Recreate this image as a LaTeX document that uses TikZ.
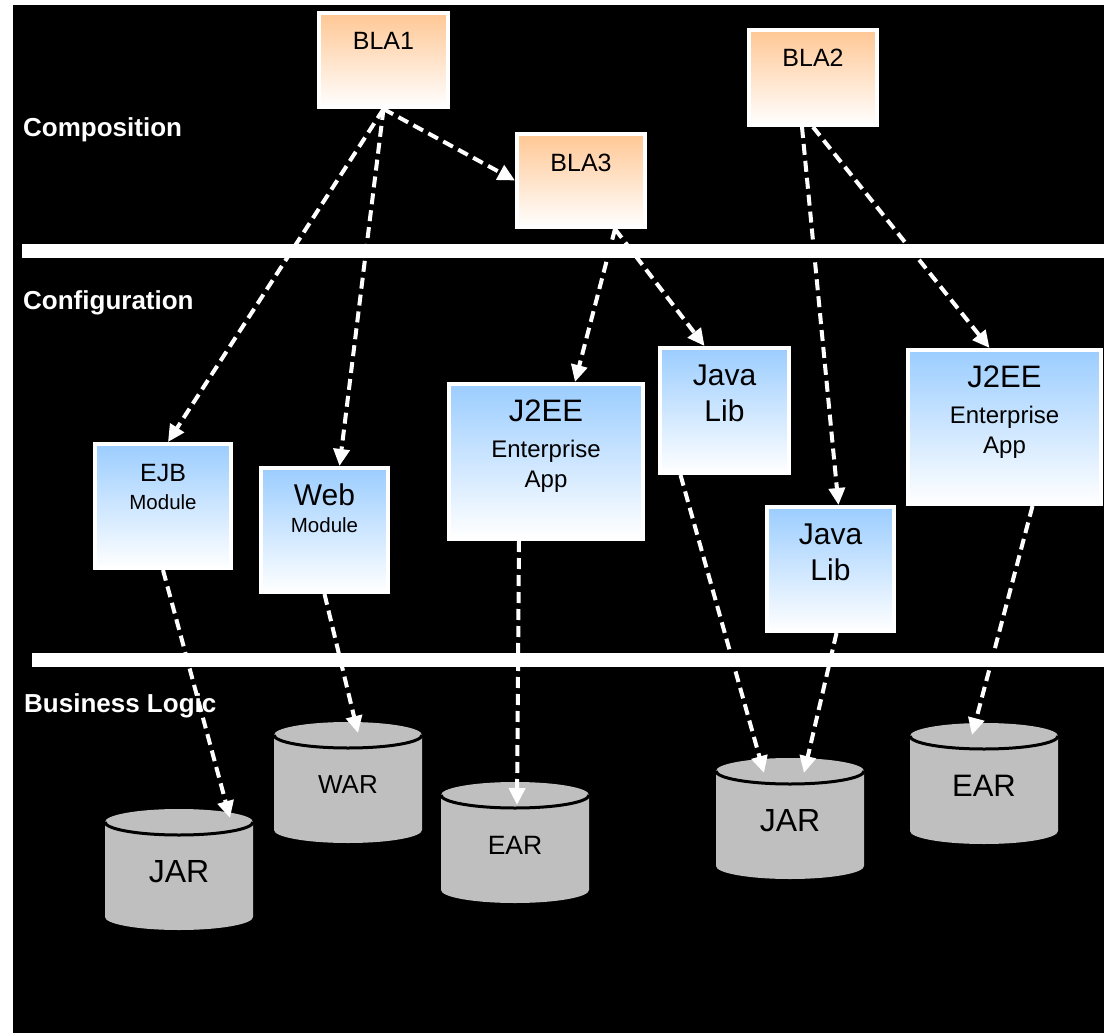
\documentclass[tikz,border=0pt]{standalone}
\usepackage{fontspec}
\setmainfont{Liberation Sans}
\usepackage{tikz}
\usetikzlibrary{arrows.meta,
                calc}

\definecolor{blaorange}{RGB}{255,199,148}
\definecolor{cfgblue}{RGB}{155,205,255}
\definecolor{storegray}{RGB}{191,191,191}

\newcommand{\BoxText}[3]{\parbox[c][#2pt][t]{#1pt}{\centering\rule{0pt}{37pt}#3}}
\newcommand{\Store}[5]{%
  \fill[storegray] (#2-74,#3-50) arc[start angle=180, end angle=0, x radius=74pt, y radius=13pt]
       -- (#2+74,#3+45) arc[start angle=0, end angle=-180, x radius=74pt, y radius=13pt] -- cycle;
  \draw[line width=3pt] (#2-74,#3-50) arc[start angle=180, end angle=360, x radius=74pt, y radius=13pt];
  \node (#1) at (#2,#3) {\fontsize{#4}{#4}\selectfont #5};
}

\begin{document}
\begin{tikzpicture}[x=1pt,y=-1pt]

\tikzstyle{blabox}=[draw=white, line width=4pt, top color=blaorange, bottom color=white, inner sep=0pt, font=\fontsize{25}{30}\selectfont]
\tikzstyle{cfgbox}=[draw=white, line width=4pt, top color=cfgblue, bottom color=white, inner sep=0pt]
\tikzstyle{layer}=[anchor=base west, inner sep=0pt, text=white, font=\fontsize{26}{26}\selectfont\bfseries]
\tikzstyle{arrow}=[draw=white, line width=4pt, dash pattern=on 11pt off 6pt, -{Triangle[length=17pt,width=16pt]}]

\useasboundingbox (0,0) rectangle (1104,1033);
\fill[white] (0,0) rectangle (1104,1033);
\fill[black] (13,5) rectangle (1104,1033);
\fill[white] (22,244) rectangle (1104,258);
\fill[white] (32,653) rectangle (1104,667);

\node (COMP) [layer] at (23,136) {Composition};
\node (CONF) [layer] at (23,309) {Configuration};
\node (BUS)  [layer] at (24,712) {Business Logic};

\node (BLA1) [blabox] at (383.5,60)   {\BoxText{129}{94}{BLA1}};
\node (BLA3) [blabox] at (581,180.5)  {\BoxText{128}{93}{BLA3}};
\node (BLA2) [blabox] at (813,77.5)   {\BoxText{128}{95}{BLA2}};

\node (EJB)  [cfgbox] at (163,506)    {\BoxText{136}{124}{\fontsize{25}{28}\selectfont EJB\\
                                        \fontsize{20.5}{28}\selectfont Module}};
\node (WEB)  [cfgbox] at (324.5,530)  {\BoxText{127}{124}{\fontsize{30}{27}\selectfont Web\\
                                        \fontsize{20.5}{27}\selectfont Module}};
\node (APP1) [cfgbox] at (546,461.5)  {\BoxText{194}{155}{\fontsize{31}{30}\selectfont J2EE\\[6pt]
                                        \fontsize{24}{30}\selectfont Enterprise\\ App}};
\node (LIB1) [cfgbox] at (724.5,410.5) {\BoxText{129}{125}{\fontsize{30}{36}\selectfont Java\\ Lib}};
\node (LIB2) [cfgbox] at (830.5,569)  {\BoxText{127}{124}{\fontsize{30}{36}\selectfont Java\\ Lib}};
\node (APP2) [cfgbox] at (1004.5,427) {\BoxText{193}{154}{\fontsize{31}{30}\selectfont J2EE\\[6pt]
                                        \fontsize{24}{30}\selectfont Enterprise\\ App}};

\Store{JAR1}{179}{872}{32}{JAR}
\Store{WAR}{348}{785}{26}{WAR}
\Store{EAR1}{515}{845}{26.5}{EAR}
\Store{JAR2}{790}{821}{32}{JAR}
\Store{EAR2}{984}{786}{31}{EAR}

\draw [arrow] (BLA1.south) -- (BLA3.west);
\draw [arrow] (BLA1.south) -- ([xshift=5pt]EJB.north);
\draw [arrow] (BLA1.south) -- ([xshift=15pt]WEB.north);
\draw [arrow] ([xshift=34pt]BLA3.south) -- ([xshift=29pt]APP1.north);
\draw [arrow] ([xshift=34pt]BLA3.south) -- ([xshift=-20pt]LIB1.north);
\draw [arrow] ([xshift=-11pt]BLA2.south) -- ([xshift=8pt]LIB2.north);
\draw [arrow] (BLA2.south) -- ([xshift=-15pt]APP2.north);
\draw [arrow] (EJB.south) -- ($(JAR1)+(51,-54)$);
\draw [arrow] (WEB.south) -- ($(WAR)+(10,-52)$);
\draw [arrow] ([xshift=-27pt]APP1.south) -- ($(EAR1)+(2,-40)$);
\draw [arrow] ([xshift=-44pt]LIB1.south) -- ($(JAR2)+(-26,-48)$);
\draw [arrow] ([xshift=6pt]LIB2.south) -- ($(JAR2)+(14,-48)$);
\draw [arrow] ([xshift=28pt]APP2.south) -- ($(EAR2)+(-12,-51)$);

\end{tikzpicture}
\end{document}
